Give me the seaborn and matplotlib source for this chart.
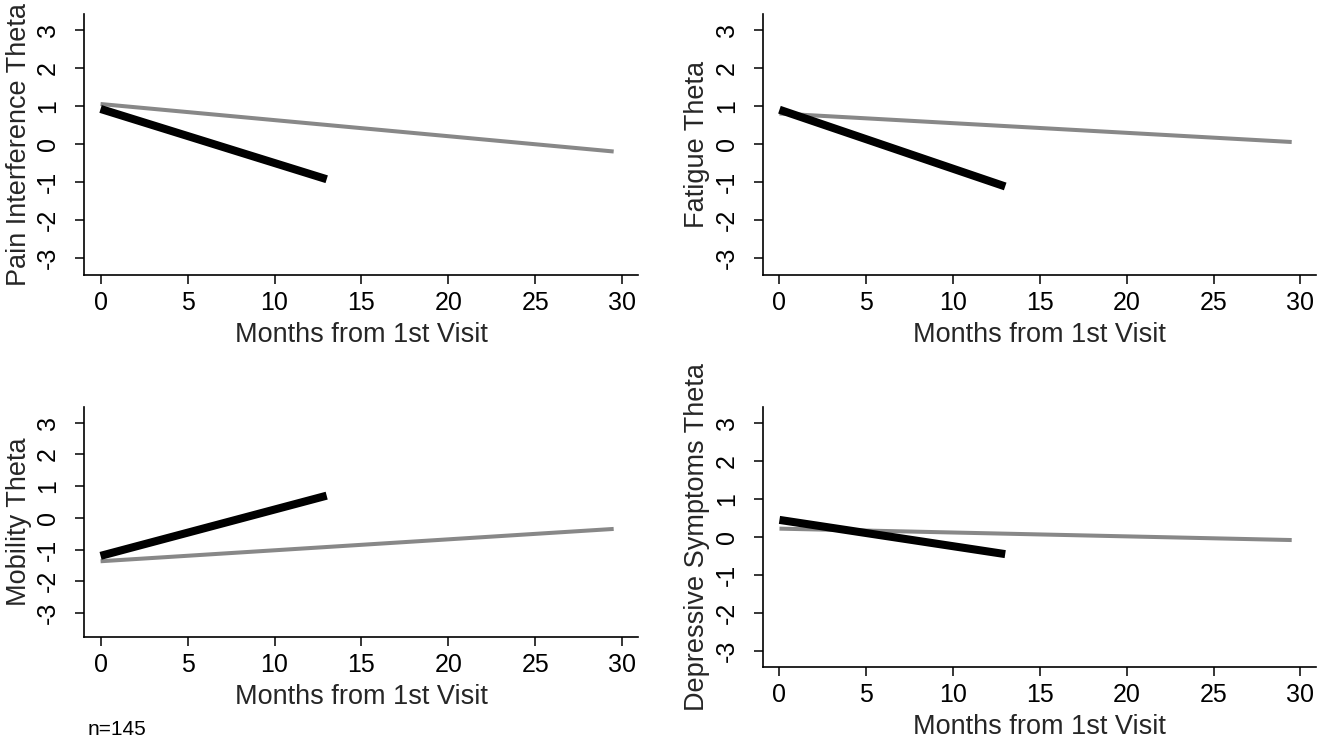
import numpy as np
import pandas as pd
import matplotlib
matplotlib.use("Agg")
import matplotlib.pyplot as plt
import seaborn as sns

# data (start / end of each fitted line)
months_black = [0, 13]
months_gray = [0, 29.5]

pain_black = [0.92, -0.93]
pain_gray = [1.05, -0.20]
fatigue_black = [0.90, -1.12]
fatigue_gray = [0.80, 0.05]
mobility_black = [-1.20, 0.70]
mobility_gray = [-1.37, -0.35]
depress_black = [0.45, -0.45]
depress_gray = [0.22, -0.08]

ylabels = ["Pain Interference Theta", "Fatigue Theta",
           "Mobility Theta", "Depressive Symptoms Theta"]
yticks = [-3, -2, -1, 0, 1, 2, 3]
xticks = [0, 5, 10, 15, 20, 25, 30]

sns.set_style("ticks")
plt.rcParams["font.family"] = ["Liberation Sans", "DejaVu Sans"]

fig = plt.figure(figsize=(13.32, 7.43), dpi=100)

# axes boxes (figure fractions) and y limits for each panel
panels = [
    ([0.0631, 0.6299, 0.4159, 0.3513], (-3.45, 3.42), pain_black, pain_gray),
    ([0.5728, 0.6299, 0.4152, 0.3513], (-3.45, 3.42), fatigue_black, fatigue_gray),
    ([0.0631, 0.1427, 0.4159, 0.3096], (-3.76, 3.50), mobility_black, mobility_gray),
    ([0.5728, 0.1023, 0.4152, 0.3499], (-3.42, 3.42), depress_black, depress_gray),
]

for i, (box, ylim, yb, yg) in enumerate(panels):
    ax = fig.add_axes(box)
    gray_df = pd.DataFrame({"month": months_gray, "theta": yg})
    black_df = pd.DataFrame({"month": months_black, "theta": yb})
    sns.lineplot(data=gray_df, x="month", y="theta", color="#888888",
                 linewidth=2.9, ax=ax, solid_capstyle="butt")
    sns.lineplot(data=black_df, x="month", y="theta", color="black",
                 linewidth=5.8, ax=ax, solid_capstyle="butt")
    ax.set_xlim(-0.95, 30.9)
    ax.set_ylim(*ylim)
    ax.set_xticks(xticks)
    ax.set_yticks(yticks)
    ax.set_yticklabels([str(t) for t in yticks], rotation=90, va="center")
    ax.tick_params(axis="both", labelsize=18, length=6.5, width=1.1,
                   color="black", labelcolor="black")
    ax.tick_params(axis="x", pad=5)
    ax.tick_params(axis="y", pad=11)
    ax.set_xlabel("Months from 1st Visit", fontsize=19.5, labelpad=5)
    ax.set_ylabel(ylabels[i], fontsize=19.5, labelpad=3)
    sns.despine(ax=ax)
    for s in ["left", "bottom"]:
        ax.spines[s].set_linewidth(1.2)
        ax.spines[s].set_color("black")

fig.text(0.066, 0.011, "n=145", fontsize=15, color="black")

fig.savefig("out.png", dpi=100, facecolor="white")
